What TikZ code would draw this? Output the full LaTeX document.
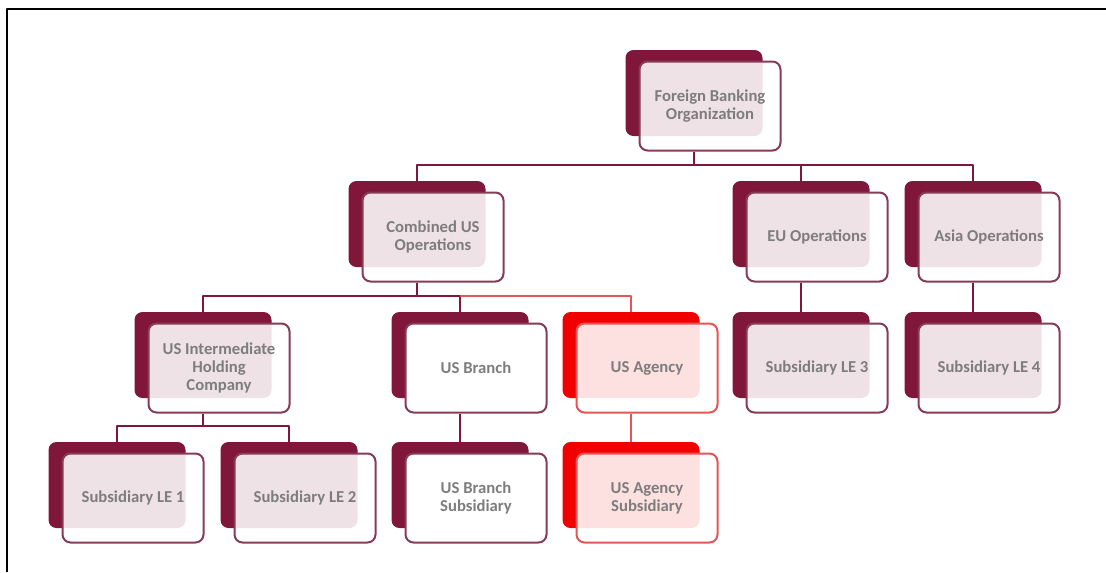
\documentclass[tikz,border=0pt]{standalone}
\usepackage{fontspec}
\setmainfont{Carlito}
\usetikzlibrary{calc}

\definecolor{wine}{RGB}{128,22,58}
\definecolor{wineline}{RGB}{135,60,85}
\definecolor{agencyred}{RGB}{240,0,0}
\definecolor{agencyline}{RGB}{228,85,85}
\definecolor{labelgray}{RGB}{125,125,125}

\begin{document}
\begin{tikzpicture}[
    x=0.75pt, y=-0.75pt,
    back/.style = {
        rectangle,
        rounded corners=6pt,
        fill=wine,
        minimum width=102.75pt,
        minimum height=64.5pt,
        inner sep=0pt
    },
    card/.style = {
        rectangle,
        rounded corners=6pt,
        draw=wineline,
        line width=1.5pt,
        fill=white,
        fill opacity=0.88,
        text opacity=1,
        minimum width=105.75pt,
        minimum height=66.75pt,
        align=center,
        font=\fontsize{12.5}{13.5}\selectfont\bfseries,
        text=labelgray,
        inner sep=2pt
    },
    solidcard/.style = {card, fill opacity=1},
    redback/.style   = {back, fill=agencyred},
    redcard/.style   = {card, draw=agencyline},
    link/.style      = {draw=wine, line width=1.5pt},
    redlink/.style   = {link, draw=agencyline},
    line join=round
]

% Offset of the front card
\def\dx{16}
\def\dy{13}

\useasboundingbox (0,0) rectangle (1106,572);
\draw[line width=1.9pt] (7,572) -- (7,9) -- (1106,9);

% Row 0: parent
\node[back] (fbo-bk) at (694,93) {};
\node[card] (fbo) at ($(fbo-bk)+(\dx,\dy)$) {Foreign Banking\\Organization};

% Row 1: operations
\node[back] (cus-bk) at (417,224) {};
\node[card] (cus) at ($(cus-bk)+(\dx,\dy)$) {Combined US\\Operations};

\node[back] (eu-bk) at (801,224) {};
\node[card] (eu) at ($(eu-bk)+(\dx,\dy)$) {EU Operations};

\node[back] (asia-bk) at (973,224) {};
\node[card] (asia) at ($(asia-bk)+(\dx,\dy)$) {Asia Operations};

% Row 2: US entities and subsidiaries
\node[back] (ihc-bk) at (203,355) {};
\node[card] (ihc) at ($(ihc-bk)+(\dx,\dy)$) {US Intermediate\\Holding\\Company};

\node[back] (usb-bk) at (460,355) {};
\node[solidcard] (usb) at ($(usb-bk)+(\dx,\dy)$) {US Branch};

\node[redback] (usa-bk) at (631,355) {};
\node[redcard] (usa) at ($(usa-bk)+(\dx,\dy)$) {US Agency};

\node[back] (le3-bk) at (801,355) {};
\node[card] (le3) at ($(le3-bk)+(\dx,\dy)$) {Subsidiary LE 3};

\node[back] (le4-bk) at (973,355) {};
\node[card] (le4) at ($(le4-bk)+(\dx,\dy)$) {Subsidiary LE 4};

% Row 3: lower subsidiaries
\node[back] (le1-bk) at (117,485) {};
\node[card] (le1) at ($(le1-bk)+(\dx,\dy)$) {Subsidiary LE 1};

\node[back] (le2-bk) at (289,485) {};
\node[card] (le2) at ($(le2-bk)+(\dx,\dy)$) {Subsidiary LE 2};

\node[back] (usbs-bk) at (460,485) {};
\node[solidcard] (usbs) at ($(usbs-bk)+(\dx,\dy)$) {US Branch\\Subsidiary};

\node[redback] (usas-bk) at (631,485) {};
\node[redcard] (usas) at ($(usas-bk)+(\dx,\dy)$) {US Agency\\Subsidiary};

% Bus heights
\coordinate (bus1) at (0,165);
\coordinate (bus2) at (0,296);
\coordinate (bus3) at (0,426);

% Connectors - row 0 to row 1
\draw[link] (fbo-bk |- fbo.south) -- (fbo-bk |- bus1) -| (cus-bk.north);
\draw[link] (fbo-bk |- bus1) -| (eu-bk.north);
\draw[link] (fbo-bk |- bus1) -| (asia-bk.north);

% Connectors - row 1 to row 2
\draw[link] (cus-bk |- cus.south) -- (cus-bk |- bus2) -| (ihc-bk.north);
\draw[link] (cus-bk |- bus2) -| (usb-bk.north);
\draw[redlink] (usb-bk |- bus2) -| (usa-bk.north);
\draw[link] (eu-bk |- eu.south) -- (le3-bk.north);
\draw[link] (asia-bk |- asia.south) -- (le4-bk.north);

% Connectors - row 2 to row 3
\draw[link] (ihc-bk |- ihc.south) -- (ihc-bk |- bus3) -| (le1-bk.north);
\draw[link] (ihc-bk |- bus3) -| (le2-bk.north);
\draw[link] (usb-bk |- usb.south) -- (usbs-bk.north);
\draw[redlink] (usa-bk |- usa.south) -- (usas-bk.north);

\end{tikzpicture}
\end{document}
